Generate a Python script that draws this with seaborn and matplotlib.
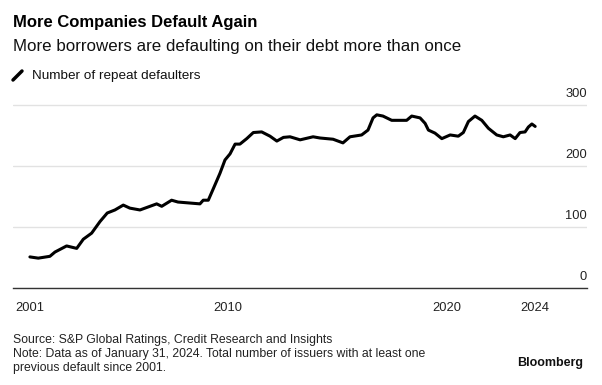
import pandas as pd
import matplotlib.pyplot as plt
from matplotlib.lines import Line2D
import seaborn as sns

# --- DATA ---
YEARS = [2001.00, 2001.38, 2001.91, 2002.14, 2002.67, 2003.13, 2003.43, 2003.81,
         2004.19, 2004.52, 2004.87, 2005.25, 2005.55, 2006.01, 2006.39, 2006.77,
         2007.00, 2007.45, 2007.74, 2008.74, 2008.89, 2009.12, 2009.35, 2009.65,
         2009.88, 2010.11, 2010.34, 2010.56, 2010.87, 2011.17, 2011.55, 2011.93,
         2012.24, 2012.54, 2012.84, 2013.30, 2013.89, 2014.21, 2014.80, 2015.25,
         2015.57, 2016.10, 2016.39, 2016.62, 2016.79, 2017.07, 2017.47, 2017.85,
         2018.15, 2018.38, 2018.76, 2018.99, 2019.14, 2019.44, 2019.75, 2020.13,
         2020.50, 2020.73, 2020.96, 2021.26, 2021.57, 2021.87, 2022.25, 2022.55,
         2022.86, 2023.09, 2023.31, 2023.54, 2023.69, 2023.85, 2024.00]
DEFAULTERS = [51, 49, 52, 59, 69, 65, 80, 90,
              109, 123, 128, 136, 131, 128, 133, 138,
              134, 144, 141, 138, 144, 144, 163, 188,
              210, 220, 236, 236, 245, 255, 256, 249,
              241, 247, 248, 243, 248, 246, 244, 238,
              248, 251, 259, 279, 284, 282, 275, 275,
              275, 282, 279, 270, 259, 254, 245, 251,
              249, 255, 273, 282, 275, 262, 251, 248,
              251, 245, 255, 256, 264, 269, 265]
X_TICKS = [2001, 2010, 2020, 2024]
Y_TICKS = [0, 100, 200, 300]

TITLE = "More Companies Default Again"
SUBTITLE = "More borrowers are defaulting on their debt more than once"
LEGEND_LABEL = "Number of repeat defaulters"
SOURCE = "Source: S&P Global Ratings, Credit Research and Insights"
NOTE_1 = "Note: Data as of January 31, 2024. Total number of issuers with at least one"
NOTE_2 = "previous default since 2001."


def plot_repeat_defaulters():
    sns.set_theme(style="white")
    plt.rcParams['font.family'] = ['Liberation Sans', 'DejaVu Sans']

    fig = plt.figure(figsize=(6.02, 3.85), dpi=100)
    ax = fig.add_axes([0.0216, 0.2519, 0.9535, 0.491])

    df = pd.DataFrame({'year': YEARS, 'defaulters': DEFAULTERS})
    sns.lineplot(data=df, x='year', y='defaulters', ax=ax,
                 color='black', linewidth=2.2)

    ax.set_xlim(2000.23, 2026.36)
    ax.set_ylim(0, 310)
    ax.set_xlabel("")
    ax.set_ylabel("")

    # grid + axis styling
    ax.set_yticks(Y_TICKS)
    ax.yaxis.grid(True, color='#e2e2e2', linewidth=1)
    ax.tick_params(axis='y', length=0, labelleft=False)
    ax.set_xticks(X_TICKS)
    ax.set_xticklabels([str(t) for t in X_TICKS])
    ax.tick_params(axis='x', length=4, width=1, color='#333333', pad=6,
                   labelsize=9.3, labelcolor='#222222', direction='out')
    for side in ['top', 'left', 'right']:
        ax.spines[side].set_visible(False)
    ax.spines['bottom'].set_color('#333333')
    ax.spines['bottom'].set_linewidth(1)

    # y labels sit above the gridlines on the right
    for v in Y_TICKS:
        ax.annotate(str(v), xy=(1.0, v), xycoords=('axes fraction', 'data'),
                    xytext=(0, 8), textcoords='offset points',
                    ha='right', va='center', fontsize=9.3, color='#222222')

    # header
    fig.text(0.0216, 1 - 22 / 385, TITLE, fontsize=12, fontweight='bold',
             va='center', color='black')
    fig.text(0.0216, 1 - 46 / 385, SUBTITLE, fontsize=12.2,
             va='center', color='#111111')

    # legend swatch
    fig.add_artist(Line2D([13 / 602, 22 / 602], [1 - 80 / 385, 1 - 71 / 385],
                          color='black', linewidth=2.5, solid_capstyle='round'))
    fig.text(32 / 602, 1 - 76 / 385, LEGEND_LABEL, fontsize=9.7,
             va='center', color='#111111')

    # footer
    for text, ypx in [(SOURCE, 340), (NOTE_1, 354), (NOTE_2, 368)]:
        fig.text(0.0216, 1 - ypx / 385, text, fontsize=8.8,
                 va='center', color='#222222')
    fig.text(583 / 602, 1 - 363 / 385, "Bloomberg", fontsize=9,
             fontweight='bold', ha='right', va='center', color='#111111')

    fig.savefig('out.png', dpi=100)


if __name__ == "__main__":
    plot_repeat_defaulters()
